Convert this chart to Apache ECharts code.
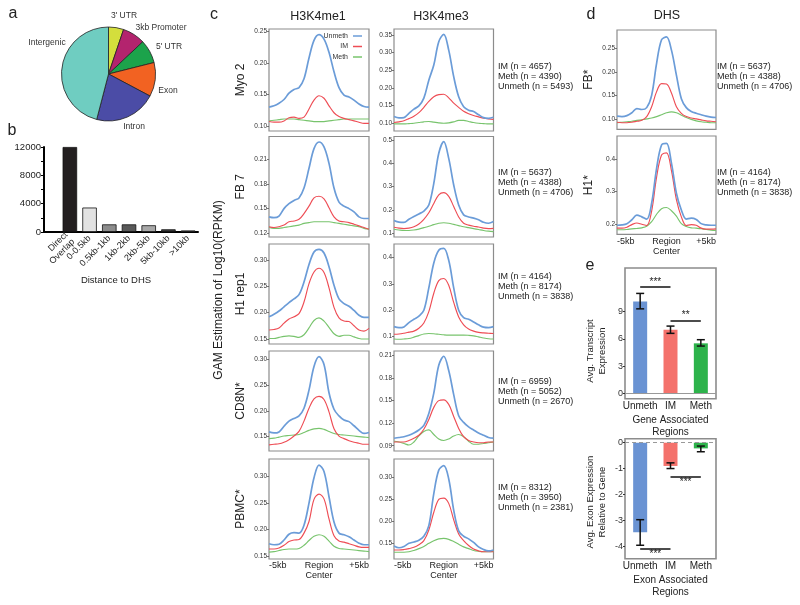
<!DOCTYPE html>
<html><head><meta charset="utf-8">
<script src="https://cdn.jsdelivr.net/npm/echarts@6/dist/echarts.min.js"></script>
<style>html,body{margin:0;padding:0;background:#fff}#c{width:800px;height:605px}</style>
</head><body><div id="c"></div>
<script>
// ================= DATA =================
// panel a
const pieCategories = ["3' UTR", "3kb Promoter", "5' UTR", "Exon", "Intron", "Intergenic"];
const pieValues = [5.2, 7.8, 8.1, 11.7, 21.3, 46.0];

// panel b
const distCategories = ['Direct\nOverlap', '0-0.5kb', '0.5kb-1kb', '1kb-2kb', '2kb-5kb', '5kb-10kb', '>10kb'];
const distValues = [12000, 3450, 1080, 1080, 950, 380, 220];
const distTickLabels = [0, 4000, 8000, 12000];
const distMinorTicks = [0, 2000, 4000, 6000, 8000, 10000, 12000];

// panels c,d: profile positions (kb from region center)
const profileX = [-5, -4.5, -4, -3.5, -3, -2.5, -2, -1.5, -1, -0.5, 0, 0.5, 1, 1.5, 2, 2.5, 3, 3.5, 4, 4.5, 5];
const groupNames = ['Unmeth', 'IM', 'Meth'];
const rowNamesC = ['Myo 2', 'FB 7', 'H1 rep1', 'CD8N*', 'PBMC*'];
const rowNamesD = ['FB*', 'H1*'];
const colTitles = ['H3K4me1', 'H3K4me3', 'DHS'];

// Myo 2
const myo2Me1Unmeth = [0.130,0.132,0.136,0.142,0.152,0.158,0.161,0.175,0.208,0.236,0.245,0.238,0.217,0.186,0.161,0.149,0.146,0.141,0.135,0.131,0.130];
const myo2Me1IM     = [0.107,0.106,0.106,0.108,0.113,0.114,0.112,0.114,0.127,0.141,0.148,0.144,0.132,0.121,0.115,0.112,0.110,0.108,0.106,0.104,0.104];
const myo2Me1Meth   = [0.108,0.109,0.110,0.111,0.111,0.111,0.110,0.109,0.108,0.107,0.107,0.107,0.108,0.109,0.110,0.111,0.111,0.111,0.111,0.111,0.111];
const myo2Me3Unmeth = [0.119,0.115,0.116,0.128,0.140,0.149,0.171,0.222,0.265,0.331,0.352,0.307,0.232,0.175,0.147,0.137,0.133,0.124,0.116,0.114,0.117];
const myo2Me3IM     = [0.102,0.104,0.107,0.113,0.120,0.130,0.145,0.162,0.175,0.181,0.182,0.172,0.157,0.145,0.134,0.127,0.122,0.118,0.114,0.112,0.111];
const myo2Me3Meth   = [0.098,0.098,0.098,0.099,0.100,0.102,0.104,0.105,0.103,0.101,0.100,0.101,0.104,0.108,0.108,0.105,0.102,0.100,0.099,0.098,0.098];
// FB 7
const fb7Me1Unmeth = [0.140,0.139,0.141,0.150,0.156,0.160,0.163,0.175,0.199,0.223,0.231,0.225,0.205,0.175,0.158,0.153,0.150,0.146,0.140,0.138,0.138];
const fb7Me1IM     = [0.128,0.127,0.128,0.130,0.134,0.135,0.137,0.144,0.153,0.163,0.165,0.162,0.151,0.140,0.135,0.134,0.133,0.131,0.129,0.127,0.125];
const fb7Me1Meth   = [0.127,0.126,0.126,0.127,0.128,0.129,0.130,0.132,0.133,0.134,0.134,0.134,0.134,0.133,0.132,0.131,0.130,0.129,0.128,0.126,0.125];
const fb7Me3Unmeth = [0.155,0.148,0.147,0.160,0.172,0.183,0.195,0.221,0.314,0.443,0.493,0.421,0.307,0.221,0.179,0.170,0.165,0.158,0.147,0.143,0.150];
const fb7Me3IM     = [0.126,0.122,0.120,0.122,0.128,0.140,0.160,0.188,0.228,0.265,0.274,0.258,0.215,0.170,0.143,0.135,0.130,0.127,0.122,0.120,0.121];
const fb7Me3Meth   = [0.117,0.114,0.112,0.112,0.114,0.118,0.124,0.130,0.137,0.143,0.145,0.143,0.138,0.133,0.128,0.124,0.120,0.116,0.112,0.109,0.107];
// H1 rep1
const h1Me1Unmeth = [0.192,0.197,0.203,0.211,0.219,0.226,0.234,0.258,0.291,0.315,0.320,0.313,0.287,0.252,0.226,0.217,0.212,0.204,0.195,0.191,0.191];
const h1Me1IM     = [0.167,0.168,0.171,0.180,0.188,0.192,0.198,0.220,0.255,0.277,0.284,0.276,0.247,0.210,0.190,0.184,0.183,0.175,0.167,0.165,0.170];
const h1Me1Meth   = [0.151,0.151,0.153,0.155,0.156,0.155,0.153,0.158,0.171,0.185,0.190,0.184,0.172,0.160,0.155,0.157,0.157,0.154,0.151,0.150,0.150];
const h1Me3Unmeth = [0.138,0.134,0.137,0.153,0.166,0.178,0.200,0.285,0.380,0.428,0.435,0.390,0.285,0.200,0.172,0.166,0.156,0.145,0.136,0.134,0.138];
const h1Me3IM     = [0.109,0.110,0.113,0.117,0.121,0.132,0.152,0.195,0.265,0.313,0.321,0.295,0.230,0.175,0.145,0.129,0.121,0.116,0.114,0.113,0.112];
const h1Me3Meth   = [0.091,0.090,0.091,0.093,0.098,0.104,0.110,0.112,0.111,0.109,0.107,0.106,0.106,0.106,0.106,0.105,0.103,0.099,0.095,0.092,0.091];
// CD8N*
const cd8Me1Unmeth = [0.159,0.157,0.159,0.170,0.180,0.185,0.190,0.205,0.240,0.286,0.305,0.290,0.235,0.203,0.190,0.182,0.179,0.171,0.162,0.156,0.158];
const cd8Me1IM     = [0.134,0.135,0.136,0.139,0.144,0.151,0.160,0.180,0.205,0.223,0.228,0.222,0.198,0.165,0.151,0.146,0.142,0.139,0.137,0.135,0.135];
const cd8Me1Meth   = [0.146,0.147,0.149,0.151,0.152,0.153,0.154,0.158,0.162,0.165,0.166,0.164,0.160,0.156,0.154,0.153,0.152,0.151,0.150,0.149,0.148];
const cd8Me3Unmeth = [0.100,0.101,0.102,0.104,0.107,0.111,0.117,0.133,0.160,0.197,0.209,0.190,0.158,0.130,0.121,0.115,0.111,0.107,0.104,0.101,0.100];
const cd8Me3IM     = [0.095,0.095,0.095,0.097,0.100,0.104,0.112,0.125,0.141,0.150,0.151,0.145,0.129,0.113,0.102,0.097,0.095,0.094,0.094,0.095,0.095];
const cd8Me3Meth   = [0.096,0.095,0.093,0.091,0.095,0.103,0.109,0.111,0.105,0.099,0.097,0.099,0.103,0.105,0.102,0.096,0.092,0.092,0.093,0.094,0.095];
// PBMC*
const pbmcMe1Unmeth = [0.173,0.171,0.172,0.180,0.191,0.194,0.193,0.208,0.250,0.298,0.322,0.310,0.262,0.214,0.193,0.190,0.186,0.180,0.174,0.171,0.171];
const pbmcMe1IM     = [0.163,0.163,0.165,0.170,0.177,0.180,0.181,0.193,0.215,0.257,0.267,0.258,0.220,0.188,0.178,0.176,0.173,0.170,0.167,0.166,0.166];
const pbmcMe1Meth   = [0.157,0.158,0.160,0.162,0.163,0.163,0.164,0.170,0.179,0.187,0.190,0.187,0.178,0.168,0.164,0.163,0.162,0.161,0.160,0.159,0.158];
const pbmcMe3Unmeth = [0.144,0.140,0.143,0.150,0.153,0.157,0.166,0.190,0.262,0.315,0.325,0.295,0.225,0.178,0.166,0.160,0.152,0.142,0.136,0.133,0.135];
const pbmcMe3IM     = [0.135,0.135,0.136,0.138,0.141,0.147,0.156,0.180,0.220,0.249,0.252,0.240,0.203,0.171,0.156,0.145,0.137,0.133,0.131,0.131,0.131];
const pbmcMe3Meth   = [0.130,0.130,0.130,0.131,0.134,0.138,0.143,0.150,0.156,0.160,0.161,0.159,0.154,0.148,0.142,0.138,0.134,0.132,0.131,0.131,0.132];
// DHS
const dhsFbUnmeth = [0.106,0.105,0.107,0.113,0.122,0.120,0.124,0.150,0.218,0.268,0.274,0.246,0.193,0.143,0.124,0.116,0.112,0.109,0.106,0.104,0.103];
const dhsFbIM     = [0.093,0.092,0.092,0.093,0.095,0.097,0.105,0.126,0.158,0.175,0.174,0.155,0.126,0.112,0.105,0.102,0.100,0.098,0.096,0.095,0.094];
const dhsFbMeth   = [0.092,0.093,0.094,0.095,0.097,0.098,0.100,0.102,0.105,0.109,0.113,0.115,0.113,0.108,0.103,0.099,0.096,0.094,0.093,0.092,0.092];
const dhsH1Unmeth = [0.196,0.197,0.201,0.213,0.227,0.222,0.215,0.264,0.372,0.444,0.449,0.388,0.295,0.243,0.215,0.218,0.214,0.201,0.197,0.196,0.196];
const dhsH1IM     = [0.187,0.187,0.190,0.198,0.203,0.199,0.195,0.240,0.345,0.413,0.420,0.365,0.275,0.222,0.195,0.198,0.196,0.187,0.184,0.184,0.185];
const dhsH1Meth   = [0.182,0.182,0.183,0.185,0.186,0.188,0.193,0.207,0.230,0.247,0.251,0.241,0.224,0.201,0.192,0.188,0.187,0.185,0.183,0.181,0.180];

// y tick labels
const ticksMyo2Me1 = [0.10, 0.15, 0.20, 0.25];
const ticksMyo2Me3 = [0.10, 0.15, 0.20, 0.25, 0.30, 0.35];
const ticksFb7Me1 = [0.12, 0.15, 0.18, 0.21];
const ticksFb7Me3 = [0.1, 0.2, 0.3, 0.4, 0.5];
const ticksH1Me1 = [0.15, 0.20, 0.25, 0.30];
const ticksH1Me3 = [0.1, 0.2, 0.3, 0.4];
const ticksCd8Me1 = [0.15, 0.20, 0.25, 0.30];
const ticksCd8Me3 = [0.09, 0.12, 0.15, 0.18, 0.21];
const ticksPbmcMe1 = [0.15, 0.20, 0.25, 0.30];
const ticksPbmcMe3 = [0.15, 0.20, 0.25, 0.30];
const ticksDhsFb = [0.10, 0.15, 0.20, 0.25];
const ticksDhsH1 = [0.2, 0.3, 0.4];

// counts (IM, Meth, Unmeth)
const countsC = [[4657, 4390, 5493], [5637, 4388, 4706], [4164, 8174, 3838], [6959, 5052, 2670], [8312, 3950, 2381]];
const countsD = [[5637, 4388, 4706], [4164, 8174, 3838]];

// panel e
const eCategories = ['Unmeth', 'IM', 'Meth'];
const eGeneMean = [10.1, 7.0, 5.5];
const eGeneLow = [9.3, 6.6, 5.2];
const eGeneHigh = [11.0, 7.4, 5.9];
const eGeneTicks = [0, 3, 6, 9];
const eGeneSig = [['Unmeth', 'IM', 11.7, '***'], ['IM', 'Meth', 8.0, '**']];
const eExonMean = [-3.47, -0.90, -0.22];
const eExonLow = [-3.97, -1.00, -0.35];
const eExonHigh = [-2.98, -0.78, -0.13];
const eExonTicks = [-4, -3, -2, -1, 0];
const eExonSig = [['Unmeth', 'IM', -4.11, '***'], ['IM', 'Meth', -1.32, '***']];

// ================= STYLE / LAYOUT =================
const FONT = '"Liberation Sans", Arial, Helvetica, sans-serif';
const LINE_COLORS = ['#6b9cd8', '#ee4d55', '#78c46d'];
const LINE_WIDTHS = [1.7, 1.15, 1.15];
const PIE_COLORS = ['#d4de3c', '#b3246e', '#1ca34b', '#f26222', '#4b4ca6', '#6fcdc1'];
const DIST_COLORS = ['#231f20', '#e2e2e2', '#8c8c8c', '#595959', '#a8a8a8', '#3c3c3c', '#8a8a8a'];
const E_COLORS = ['#6a93d3', '#f4726c', '#2db34b'];
const BOX = '#8c8c8c';

const plotDefs = [
  {g: [269, 29, 100, 102], min: 0.092, max: 0.254, ticks: ticksMyo2Me1, dec: 2, s: [myo2Me1Unmeth, myo2Me1IM, myo2Me1Meth], name: rowNamesC[0]},
  {g: [394, 29, 99.5, 102], min: 0.078, max: 0.367, ticks: ticksMyo2Me3, dec: 2, s: [myo2Me3Unmeth, myo2Me3IM, myo2Me3Meth]},
  {g: [269, 136.5, 100, 100.5], min: 0.1155, max: 0.2377, ticks: ticksFb7Me1, dec: 2, s: [fb7Me1Unmeth, fb7Me1IM, fb7Me1Meth], name: rowNamesC[1]},
  {g: [394, 136.5, 99.5, 100.5], min: 0.084, max: 0.515, ticks: ticksFb7Me3, dec: 1, s: [fb7Me3Unmeth, fb7Me3IM, fb7Me3Meth]},
  {g: [269, 244, 100, 100], min: 0.1405, max: 0.330, ticks: ticksH1Me1, dec: 2, s: [h1Me1Unmeth, h1Me1IM, h1Me1Meth], name: rowNamesC[2]},
  {g: [394, 244, 99.5, 100], min: 0.072, max: 0.452, ticks: ticksH1Me3, dec: 1, s: [h1Me3Unmeth, h1Me3IM, h1Me3Meth]},
  {g: [269, 351, 100, 100], min: 0.122, max: 0.316, ticks: ticksCd8Me1, dec: 2, s: [cd8Me1Unmeth, cd8Me1IM, cd8Me1Meth], name: rowNamesC[3]},
  {g: [394, 351, 99.5, 100], min: 0.083, max: 0.216, ticks: ticksCd8Me3, dec: 2, s: [cd8Me3Unmeth, cd8Me3IM, cd8Me3Meth]},
  {g: [269, 459, 100, 100], min: 0.144, max: 0.3335, ticks: ticksPbmcMe1, dec: 2, s: [pbmcMe1Unmeth, pbmcMe1IM, pbmcMe1Meth], name: rowNamesC[4], xl: true},
  {g: [394, 459, 99.5, 100], min: 0.1147, max: 0.340, ticks: ticksPbmcMe3, dec: 2, s: [pbmcMe3Unmeth, pbmcMe3IM, pbmcMe3Meth], xl: true},
  {g: [617, 30, 99, 99.3], min: 0.078, max: 0.2888, ticks: ticksDhsFb, dec: 2, s: [dhsFbUnmeth, dhsFbIM, dhsFbMeth], name: rowNamesD[0]},
  {g: [617, 136, 99, 98.3], min: 0.168, max: 0.472, ticks: ticksDhsH1, dec: 1, s: [dhsH1Unmeth, dhsH1IM, dhsH1Meth], name: rowNamesD[1], xl: true}
];

const grid = [], xAxis = [], yAxis = [], series = [];
const xLabelFmt = v => v === -5 ? '-5kb' : (v === 0 ? 'Region\nCenter' : '+5kb');

plotDefs.forEach((p, i) => {
  grid.push({left: p.g[0], top: p.g[1], width: p.g[2], height: p.g[3], show: true,
    borderColor: BOX, borderWidth: 1.2, backgroundColor: '#fff', outerBoundsMode: 'none', containLabel: false});
  xAxis.push({gridIndex: i, type: 'value', min: -5, max: 5, interval: 5,
    axisLine: {show: false, onZero: false}, axisTick: {show: false}, splitLine: {show: false},
    axisLabel: {show: !!p.xl, formatter: xLabelFmt, fontSize: 9, color: '#222', margin: 2, lineHeight: 10,
      alignMinLabel: 'left', alignMaxLabel: 'right', showMinLabel: true, showMaxLabel: true, fontFamily: FONT}});
  yAxis.push({gridIndex: i, type: 'value', min: p.min, max: p.max,
    axisLine: {show: false, onZero: false}, splitLine: {show: false},
    axisTick: {show: true, length: 2, customValues: p.ticks, lineStyle: {color: '#555', width: 0.8}},
    axisLabel: {customValues: p.ticks, formatter: v => v.toFixed(p.dec), fontSize: 6.5, color: '#333', margin: 2, fontFamily: FONT},
    name: p.name || '', nameLocation: 'middle', nameRotate: 90, nameGap: 22,
    nameTextStyle: {fontSize: 12, color: '#222', fontFamily: FONT}});
  p.s.forEach((arr, k) => {
    series.push({type: 'line', name: groupNames[k], xAxisIndex: i, yAxisIndex: i,
      data: profileX.map((x, j) => [x, arr[j]]), smooth: 0.35, showSymbol: false, symbol: 'none',
      lineStyle: {width: LINE_WIDTHS[k], color: LINE_COLORS[k]}, itemStyle: {color: LINE_COLORS[k]},
      silent: true, z: 3 - k});
  });
});

// ---- panel b
const gB = grid.length;
grid.push({left: 60, top: 147, width: 138, height: 85, outerBoundsMode: 'none', containLabel: false});
xAxis.push({gridIndex: gB, type: 'category', data: distCategories,
  axisLine: {onZero: false, lineStyle: {color: '#000', width: 2}}, axisTick: {show: false},
  axisLabel: {rotate: 45, interval: 0, fontSize: 9, color: '#222', margin: 5, lineHeight: 10, fontFamily: FONT},
  name: 'Distance to DHS', nameLocation: 'middle', nameGap: 43,
  nameTextStyle: {fontSize: 9.5, color: '#222', fontFamily: FONT, padding: [0, 26, 0, 0]}});
yAxis.push({gridIndex: gB, type: 'value', min: 0, max: 12000, offset: 16,
  axisLine: {show: true, lineStyle: {color: '#000', width: 2}}, splitLine: {show: false},
  axisTick: {show: true, length: 3, customValues: distMinorTicks, lineStyle: {color: '#000', width: 1}},
  axisLabel: {customValues: distTickLabels, formatter: v => String(v), fontSize: 9.5, color: '#222', margin: 3, fontFamily: FONT}});
series.push({type: 'bar', xAxisIndex: gB, yAxisIndex: gB, barWidth: 14.5,
  data: distValues.map((v, i) => ({value: v, itemStyle: {color: DIST_COLORS[i], borderColor: '#111', borderWidth: 0.8}})),
  silent: true});

// ---- panel e
function errorSeries(gi, low, high) {
  return {type: 'custom', xAxisIndex: gi, yAxisIndex: gi, silent: true, z: 5,
    data: eCategories.map((c, i) => [i, low[i], high[i]]),
    renderItem: (params, api) => {
      const lo = api.coord([api.value(0), api.value(1)]);
      const hi = api.coord([api.value(0), api.value(2)]);
      const w = 4, st = {stroke: '#111', lineWidth: 1.5};
      return {type: 'group', children: [
        {type: 'line', shape: {x1: lo[0], y1: lo[1], x2: hi[0], y2: hi[1]}, style: st},
        {type: 'line', shape: {x1: lo[0] - w, y1: lo[1], x2: lo[0] + w, y2: lo[1]}, style: st},
        {type: 'line', shape: {x1: hi[0] - w, y1: hi[1], x2: hi[0] + w, y2: hi[1]}, style: st}
      ]};
    }};
}
function eBlock(top, height, min, max, ticks, means, low, high, sig, xName, zeroDashed, sigBelow) {
  const gi = grid.length;
  grid.push({left: 625, top: top, width: 91, height: height, show: true, borderColor: BOX, borderWidth: 1.6,
    backgroundColor: '#fff', outerBoundsMode: 'none', containLabel: false});
  xAxis.push({gridIndex: gi, type: 'category', data: eCategories,
    axisLine: {show: false, onZero: false}, axisTick: {show: false},
    axisLabel: {fontSize: 10, color: '#222', margin: 3, fontFamily: FONT, interval: 0},
    name: xName, nameLocation: 'middle', nameGap: 15,
    nameTextStyle: {fontSize: 10, color: '#222', lineHeight: 12.5, fontFamily: FONT, verticalAlign: 'top'}});
  yAxis.push({gridIndex: gi, type: 'value', min: min, max: max,
    axisLine: {show: false, onZero: false}, splitLine: {show: false},
    axisTick: {show: true, length: 2, customValues: ticks, lineStyle: {color: '#333'}},
    axisLabel: {customValues: ticks, fontSize: 9, color: '#333', margin: 2, fontFamily: FONT}});
  series.push({type: 'bar', xAxisIndex: gi, yAxisIndex: gi, barWidth: 14, silent: true,
    data: means.map((v, i) => ({value: v, itemStyle: {color: E_COLORS[i]}})),
    markLine: {symbol: 'none', silent: true, animation: false,
      lineStyle: {color: '#111', width: 1.5, type: 'solid'},
      label: {fontSize: 10, color: '#222', fontFamily: FONT, distance: 0},
      data: sig.map(s => [
        {coord: [s[0], s[2]], label: {formatter: s[3], position: sigBelow ? 'insideMiddleBottom' : 'insideMiddleTop'}},
        {coord: [s[1], s[2]]}])}});
  series.push(errorSeries(gi, low, high));
  series.push({type: 'line', xAxisIndex: gi, yAxisIndex: gi, data: [], silent: true,
    markLine: {symbol: 'none', silent: true, animation: false, label: {show: false},
      lineStyle: {color: '#999', width: 1.2, type: zeroDashed ? [4, 3] : 'solid'},
      data: [{yAxis: 0}]}});
}
eBlock(268, 130.7, -0.6, 13.8, eGeneTicks, eGeneMean, eGeneLow, eGeneHigh, eGeneSig, 'Gene Associated\nRegions', false, false);
eBlock(438.7, 120, -4.49, 0.155, eExonTicks, eExonMean, eExonLow, eExonHigh, eExonSig, 'Exon Associated\nRegions', true, true);

// ---- panel a
const pieLabelPos = {"3' UTR": [124, 16], '3kb Promoter': [161, 28], "5' UTR": [169, 47], 'Exon': [168, 91], 'Intron': [134, 127], 'Intergenic': [47, 43]};
series.push({type: 'pie', center: [108.5, 74], radius: 47, startAngle: 90, clockwise: true, silent: true,
  avoidLabelOverlap: false,
  data: pieCategories.map((n, i) => ({name: n, value: pieValues[i], itemStyle: {color: PIE_COLORS[i]}})),
  itemStyle: {borderColor: '#222', borderWidth: 0.8},
  label: {show: true, formatter: '{b}', fontSize: 8.5, color: '#333', fontFamily: FONT},
  labelLine: {show: false},
  labelLayout: p => {
    const pos = pieLabelPos[pieCategories[p.dataIndex]];
    return {x: pos[0], y: pos[1], align: 'center', verticalAlign: 'middle'};
  }});

// ---- free texts
const T = (text, x, y, size, extra) => Object.assign({type: 'text', x: x, y: y, silent: true,
  style: Object.assign({text: text, fontSize: size, fontFamily: FONT, fill: '#222', align: 'center', verticalAlign: 'middle'}, (extra && extra.style) || {})},
  extra && extra.rot ? {rotation: extra.rot} : {});
const graphic = [
  T('a', 13, 14, 16), T('b', 12, 131, 16), T('c', 214, 15, 16), T('d', 591, 15, 16), T('e', 590, 266, 16),
  T(colTitles[0], 318, 17, 12.5), T(colTitles[1], 441, 17, 12.5), T(colTitles[2], 667, 16, 12.5),
  T('GAM Estimation of Log10(RPKM)', 219, 290, 12, {rot: Math.PI / 2}),
  T('Avg. Transcript\nExpression', 596.5, 351, 9.5, {rot: Math.PI / 2, style: {lineHeight: 11.5}}),
  T('Avg. Exon Expression\nRelative to Gene', 596.5, 502, 9.5, {rot: Math.PI / 2, style: {lineHeight: 11.5}}),
  {type: 'line', silent: true, shape: {x1: 43, y1: 232, x2: 61, y2: 232}, style: {stroke: '#000', lineWidth: 2}}
];
const countText = c => 'IM (n = ' + c[0] + ')\nMeth (n = ' + c[1] + ')\nUnmeth (n = ' + c[2] + ')';
const countTopC = [61, 167, 271, 376, 482];
countsC.forEach((c, i) => graphic.push(T(countText(c), 498, countTopC[i], 9, {style: {align: 'left', verticalAlign: 'top', lineHeight: 10.4}})));
const countTopD = [61, 167];
countsD.forEach((c, i) => graphic.push(T(countText(c), 717, countTopD[i], 9, {style: {align: 'left', verticalAlign: 'top', lineHeight: 10.4}})));

const chart = echarts.init(document.getElementById('c'), null, {renderer: 'canvas'});
chart.setOption({
  animation: false,
  backgroundColor: '#fff',
  textStyle: {fontFamily: FONT},
  legend: {data: groupNames, orient: 'vertical', right: 438, top: 32, align: 'right', icon: 'rect',
    itemWidth: 9, itemHeight: 1.5, itemGap: 2.5, padding: 0, selectedMode: false,
    textStyle: {fontSize: 7, color: '#333', lineHeight: 8, fontFamily: FONT}},
  grid: grid, xAxis: xAxis, yAxis: yAxis, series: series, graphic: graphic
});
</script></body></html>
